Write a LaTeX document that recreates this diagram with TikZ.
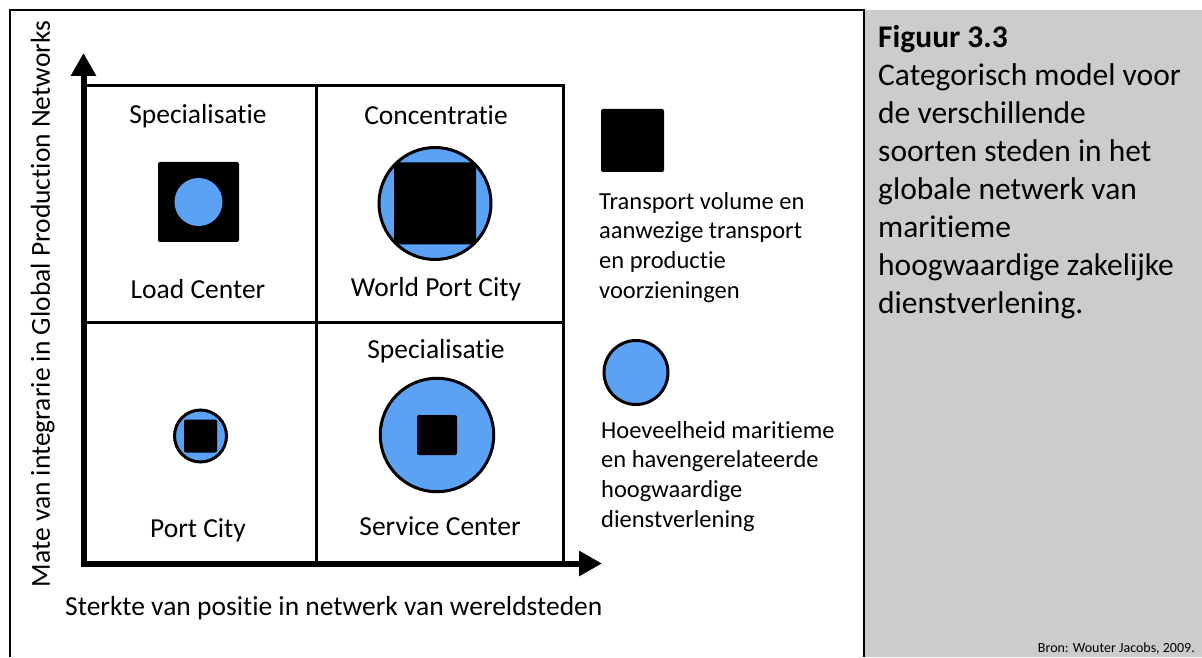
\documentclass[tikz,border=0pt]{standalone}
\usepackage{fontspec}
\setmainfont{Carlito}[Ligatures=NoCommon]
\usetikzlibrary{arrows.meta}
\definecolor{discblue}{RGB}{91,162,245}
\definecolor{panelgrey}{RGB}{204,204,204}
\begin{document}
\begin{tikzpicture}[x=1pt,y=1pt,
  lbl/.style={inner sep=0pt,font=\fontsize{27.5}{33}\selectfont},
  legendtxt/.style={inner sep=0pt,align=left,anchor=base west,font=\fontsize{24.5}{29.6}\selectfont},
  captiontxt/.style={inner sep=0pt,align=left,anchor=base west,font=\fontsize{31.5}{37.9}\selectfont},
  sourcetxt/.style={inner sep=0pt,anchor=base east,font=\fontsize{14}{17}\selectfont},
  axisline/.style={line width=6pt,line join=miter,
    {Triangle[width=24pt,length=23pt]}-{Triangle[width=24pt,length=23pt]}},
  gridline/.style={line width=3pt,line cap=rect},
  blackbox/.style={rectangle,fill=black,rounded corners=2pt,inner sep=0pt},
  bluedisc/.style={circle,fill=discblue,draw=black,line width=3pt,inner sep=0pt},
  plaindisc/.style={circle,fill=discblue,inner sep=0pt}]
\useasboundingbox (0,0) rectangle (1202,657);

% caption panel and frame of the figure area
\fill[panelgrey] (865,0) rectangle (1202,647);
\draw[line width=2pt] (10,0) -- (10,647) -- (864,647) -- (864,0);

% axes
\coordinate (O) at (83.5,93.5);
\coordinate (ytip) at (83.5,604);
\coordinate (xtip) at (602,93.5);
\draw[axisline] (ytip) -- (O) -- (xtip);

% 2x2 grid
\coordinate (TL) at (83.5,571);
\coordinate (TM) at (316.5,571);
\coordinate (TR) at (563,571);
\coordinate (ML) at (83.5,335);
\coordinate (MR) at (563,335);
\coordinate (BM) at (316.5,93.5);
\coordinate (BR) at (563,93.5);
\draw[gridline] (TL) -- (TR) -- (BR);
\draw[gridline] (TM) -- (BM);
\draw[gridline] (ML) -- (MR);

% axis titles
\node[lbl,rotate=90,anchor=base] (ylabel) at (50,353)
  {Mate van integrarie in Global Production Networks};
\node[lbl,anchor=base west] (xlabel) at (65,42)
  {Sterkte van positie in netwerk van wereldsteden};

% top-left cell: Load Center
\node[lbl,anchor=base] (specTL) at (198,533) {Specialisatie};
\node[blackbox,minimum width=81pt,minimum height=80pt] (lcBox) at (198.5,455) {};
\node[plaindisc,minimum size=48pt] (lcDisc) at (lcBox.center) {};
\node[lbl,anchor=base] (lcName) at (198,359) {Load Center};

% top-right cell: World Port City
\node[lbl,anchor=base] (conc) at (436,532) {Concentratie};
\node[bluedisc,minimum size=112pt] (wpcDisc) at (435,453.5) {};
\node[blackbox,minimum size=82pt] (wpcBox) at (wpcDisc.center) {};
\node[lbl,anchor=base] (wpcName) at (436,360) {World Port City};

% bottom-left cell: Port City
\node[bluedisc,minimum size=52pt] (pcDisc) at (200.5,221) {};
\node[blackbox,minimum size=33pt] (pcBox) at (pcDisc.center) {};
\node[lbl,anchor=base] (pcName) at (198,120) {Port City};

% bottom-right cell: Service Center
\node[lbl,anchor=base] (specBR) at (436,299) {Specialisatie};
\node[bluedisc,minimum size=113.5pt] (scDisc) at (437,222) {};
\node[blackbox,minimum size=40pt] (scBox) at (scDisc.center) {};
\node[lbl,anchor=base] (scName) at (440,122) {Service Center};

% legend (base anchor of a multi-line node sits on its last line)
\node[blackbox,minimum size=63pt] (legBox) at (632.5,516.5) {};
\node[legendtxt] (legBoxTxt) at (599,359)
  {Transport volume en\\aanwezige transport\\en productie\\voorzieningen};
\node[bluedisc,minimum size=64pt] (legDisc) at (636,284.5) {};
\node[legendtxt] (legDiscTxt) at (601,130)
  {Hoeveelheid maritieme\\en havengerelateerde\\hoogwaardige\\dienstverlening};

% caption
\node[captiontxt] (caption) at (878,344)
  {\textbf{Figuur 3.3}\\Categorisch model voor\\de verschillende\\soorten steden in het\\globale netwerk van\\maritieme\\hoogwaardige zakelijke\\dienstverlening.};
\node[sourcetxt] (source) at (1195,5) {Bron: Wouter Jacobs, 2009.};
\end{tikzpicture}
\end{document}
